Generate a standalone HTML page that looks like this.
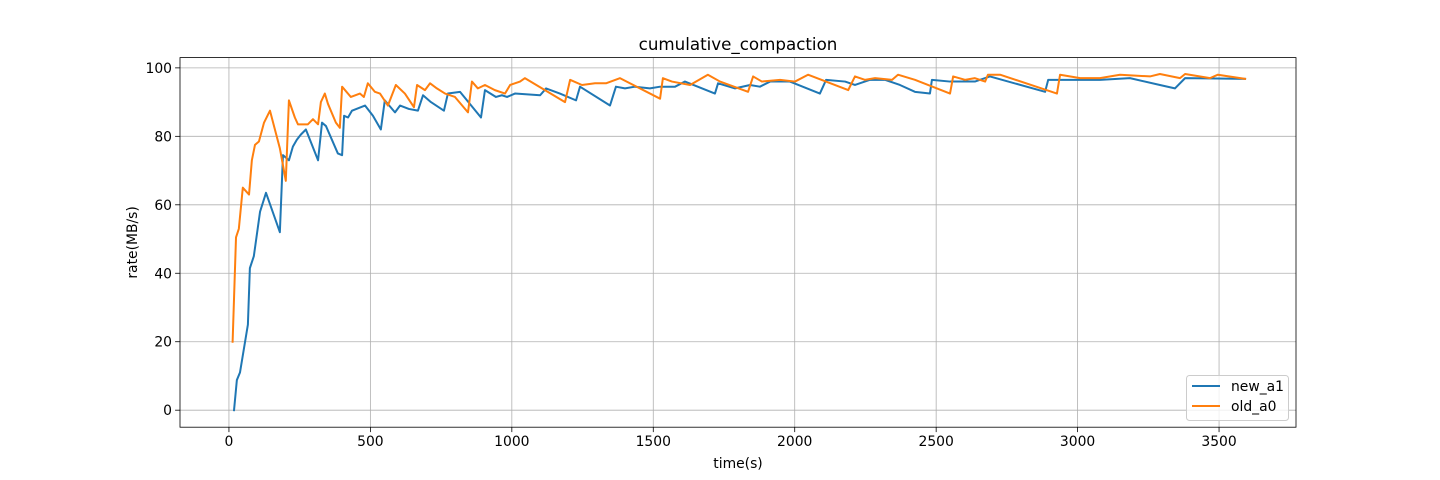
<!DOCTYPE html>
<html><head><meta charset="utf-8"><style>
body{margin:0;background:#fff;}
svg{display:block;font-family:"DejaVu Sans","Liberation Sans",sans-serif;}
</style></head><body>
<svg id="chart" width="1440" height="480"></svg>
<script>
const newT=[18,28,39,67,74,88,110,131,180,191,212,226,240,254,272,315,329,343,385,400,407,421,435,481,509,537,551,587,605,636,668,686,714,760,774,817,891,905,944,965,983,1011,1100,1121,1170,1227,1241,1347,1368,1400,1435,1488,1524,1577,1612,1718,1729,1789,1842,1877,1913,1983,2089,2111,2178,2213,2266,2319,2372,2425,2478,2485,2549,2637,2690,2885,2896,3079,3185,3291,3344,3380,3592];
const newV=[0,8.8,11,25,41.5,45,58,63.5,52,74.5,73,77,79,80.5,82,73,84,83,75,74.5,86,85.5,87.5,89,86,82,90.5,87,89,88,87.5,92,90,87.5,92.5,93,85.5,93.5,91.5,92,91.5,92.5,92,94,92.5,90.5,94.5,89,94.5,94,94.5,94,94.5,94.5,96,92.5,95.5,94,95,94.5,96,96,92.5,96.5,96,95,96.5,96.5,95,93,92.5,96.5,96,96,97.5,93,96.5,96.5,97,95,94,97,96.8];
const oldT=[13,25,35,49,71,81,92,106,124,145,180,201,212,233,244,279,297,315,325,339,350,378,392,400,431,463,477,491,516,534,562,590,622,654,665,693,711,735,764,799,845,859,880,905,940,976,994,1029,1046,1188,1206,1248,1294,1333,1382,1524,1534,1566,1630,1693,1736,1835,1853,1884,1948,2001,2047,2189,2213,2248,2284,2344,2365,2425,2549,2560,2602,2637,2673,2683,2726,2927,2938,3009,3079,3150,3256,3291,3362,3380,3468,3496,3592];
const oldV=[20,50.5,53,65,63,73,77.5,78.5,84,87.5,76.5,67,90.5,85.5,83.5,83.5,85,83.5,90,92.5,89.5,84,82.5,94.5,91.5,92.5,91.5,95.5,93,92.5,89,95,92.5,88.5,95,93.5,95.5,94,92.5,91.5,87,96,94,95,93.5,92.5,95,96,97,90,96.5,95,95.5,95.5,97,91,97,96,95,98,96,93,97.5,96,96.5,96,98,93.5,97.5,96.5,97,96.5,98,96.5,92.5,97.5,96.5,97,96,98,98,92.5,98,97,97,98,97.5,98.2,97,98.2,97,98,96.8];
const xTicks=[0,500,1000,1500,2000,2500,3000,3500];
const yTicks=[0,20,40,60,80,100];

const L=180,R=1296,T=57.6,B=427.2,XMIN=-173,XMAX=3772,YMIN=-4.97,YMAX=103;
const sx=v=>L+(v-XMIN)/(XMAX-XMIN)*(R-L);
const sy=v=>B-(v-YMIN)/(YMAX-YMIN)*(B-T);
const NS="http://www.w3.org/2000/svg";
const svg=document.getElementById('chart');
function mk(tag,attrs,parent){const e=document.createElementNS(NS,tag);for(const k in attrs)e.setAttribute(k,attrs[k]);(parent||svg).appendChild(e);return e;}

const grid=mk('g',{});


xTicks.forEach(t=>{
  const x=sx(t);
  const gl=mk('line',{x1:x,x2:x,y1:T,y2:B,stroke:'#b0b0b0','stroke-width':0.8},grid);
  
  
  const tk=mk('line',{x1:x,x2:x,y1:B,y2:B+4.9,stroke:'#000','stroke-width':0.8});
  
  
  const lb=mk('text',{x:x,y:B+19,'font-size':13.9,'text-anchor':'middle',fill:'#000'});
  lb.textContent=t;
  
  
});
yTicks.forEach(t=>{
  const y=sy(t);
  const gl=mk('line',{x1:L,x2:R,y1:y,y2:y,stroke:'#b0b0b0','stroke-width':0.8},grid);
  
  
  const tk=mk('line',{x1:L-4.9,x2:L,y1:y,y2:y,stroke:'#000','stroke-width':0.8});
  
  
  const lb=mk('text',{x:L-8,y:y+5,'font-size':13.9,'text-anchor':'end',fill:'#000'});
  lb.textContent=t;
  
  
});
function line(ts,vs,color,name){
  const p=mk('polyline',{points:ts.map((t,i)=>sx(t)+','+sy(vs[i])).join(' '),fill:'none',stroke:color,'stroke-width':2,'stroke-linejoin':'round','stroke-linecap':'square'});
  
  
}
line(newT,newV,'#1f77b4','series-new-a1');
line(oldT,oldV,'#ff7f0e','series-old-a0');

const fr=mk('rect',{x:L,y:T,width:R-L,height:B-T,fill:'none',stroke:'#000','stroke-width':0.8});



const title=mk('text',{x:(L+R)/2,y:50,'font-size':16.7,'text-anchor':'middle'});
title.textContent='cumulative_compaction';


const xt=mk('text',{x:(L+R)/2,y:468,'font-size':13.9,'text-anchor':'middle'});
xt.textContent='time(s)';


const yt=mk('text',{x:137,y:(T+B)/2,'font-size':13.9,'text-anchor':'middle',transform:'rotate(-90 137 '+((T+B)/2)+')'});
yt.textContent='rate(MB/s)';



const lg=mk('g',{});


mk('rect',{x:1186.5,y:375.5,width:102,height:45,rx:3,fill:'#fff','fill-opacity':0.8,stroke:'#ccc'},lg);
[['new_a1','#1f77b4',390],['old_a0','#ff7f0e',410]].forEach(([n,c,y])=>{
  const e=mk('g',{},lg);
  
  
  mk('line',{x1:1192,x2:1220,y1:y-4,y2:y-4,stroke:c,'stroke-width':2},e);
  const t=mk('text',{x:1231,y:y+1,'font-size':13.9},e);
  t.textContent=n;
});
</script>
</body></html>
